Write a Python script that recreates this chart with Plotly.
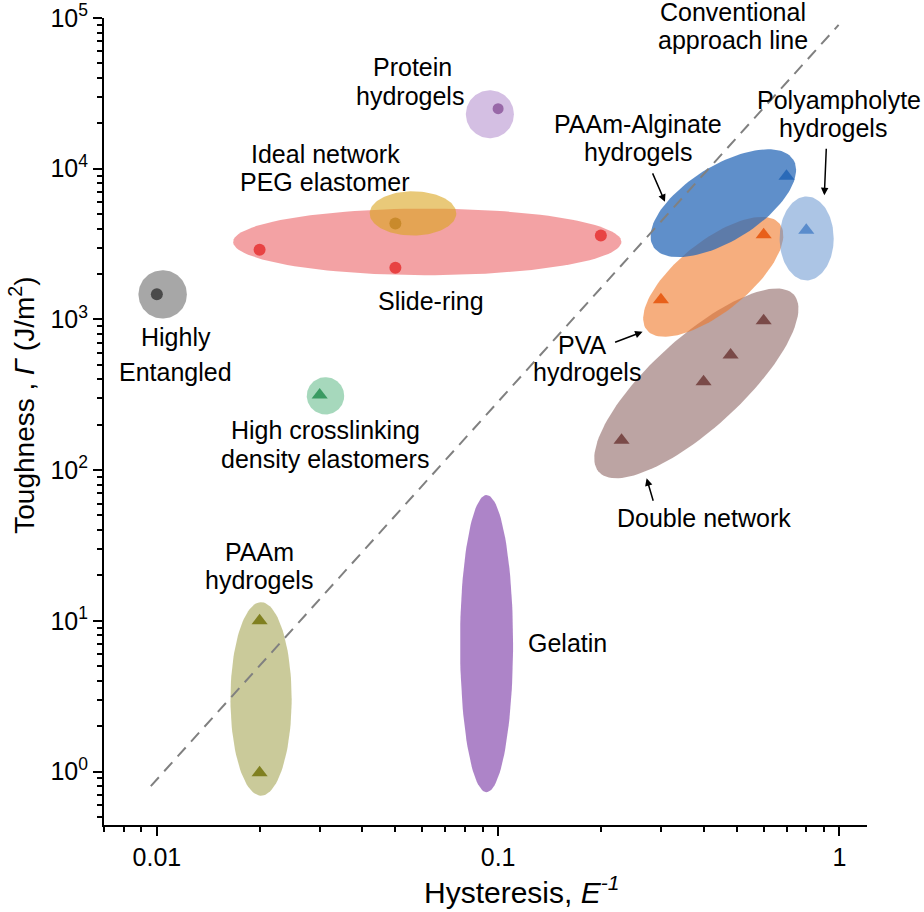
#%%
import numpy as np
import plotly.graph_objects as go

# %% DATA
# shaded regions: centre (hysteresis, toughness) + two half axes in decades (dlog10 x, dlog10 y)
region_names = ['Highly entangled', 'Slide-ring', 'Ideal network PEG', 'High crosslinking',
                'Protein hydrogels', 'Double network', 'PVA hydrogels', 'PAAm-Alginate hydrogels',
                'Polyampholyte hydrogels', 'PAAm hydrogels', 'Gelatin']
region_x = [0.0104, 0.062, 0.0563, 0.0312, 0.0946, 0.381, 0.427, 0.457, 0.802, 0.0202, 0.0925]
region_y = [1465, 3270, 5050, 311, 22980, 376, 1916, 5904, 3444, 3.03, 7.06]
region_half1 = [(0.071, 0), (0.569, 0), (0.127, 0), (0.0548, 0), (0.0704, 0),
                (0.2854, 0.5893), (0.1948, 0.3528), (0.2052, 0.2885), (0.0792, 0), (0.0897, 0), (0.0777, 0)]
region_half2 = [(0, 0.1605), (0, 0.221), (0, 0.147), (0, 0.124), (0, 0.159),
                (-0.0898, 0.2223), (-0.0651, 0.1837), (-0.0582, 0.2117), (0, 0.2785), (0, 0.642), (0, 0.986)]

# measured points
entangled_x, entangled_y = [0.01], [1470]
slide_x, slide_y = [0.02, 0.05, 0.2], [2900, 2200, 3600]
peg_x, peg_y = [0.05], [4330]
crosslink_x, crosslink_y = [0.03], [315]
protein_x, protein_y = [0.1], [25000]
dn_x, dn_y = [0.6, 0.48, 0.4, 0.23], [980, 580, 385, 158]
pva_x, pva_y = [0.6, 0.3], [3650, 1350]
alginate_x, alginate_y = [0.7], [8900]
polyamph_x, polyamph_y = [0.8], [3900]
paam_x, paam_y = [0.02, 0.02], [10.0, 0.98]

# conventional approach line (end points)
line_x = [0.0096, 0.995]
line_y = [0.8, 9.0e4]

x_ticks = [0.01, 0.1, 1]
x_ticktext = ['0.01', '0.1', '1']
y_ticks = [1, 10, 100, 1e3, 1e4, 1e5]
y_ticktext = ['10<sup>0</sup>', '10<sup>1</sup>', '10<sup>2</sup>', '10<sup>3</sup>', '10<sup>4</sup>', '10<sup>5</sup>']

# %% STYLE
region_fill = {
    'Highly entangled': 'rgba(80,80,80,0.5)',
    'Slide-ring': 'rgba(232,69,74,0.5)',
    'Ideal network PEG': 'rgba(218,165,32,0.6)',
    'High crosslinking': 'rgba(58,168,106,0.45)',
    'Protein hydrogels': 'rgba(160,112,192,0.45)',
    'Double network': 'rgba(122,74,72,0.5)',
    'PVA hydrogels': 'rgba(240,120,40,0.6)',
    'PAAm-Alginate hydrogels': 'rgba(42,106,184,0.75)',
    'Polyampholyte hydrogels': 'rgba(90,140,204,0.5)',
    'PAAm hydrogels': 'rgba(138,138,32,0.45)',
    'Gelatin': 'rgba(138,80,176,0.7)',
}

FONT = 'Liberation Sans, Arial, sans-serif'

fig = go.Figure()

t = np.linspace(0, 2 * np.pi, 120)
for name, cx, cy, h1, h2 in zip(region_names, region_x, region_y, region_half1, region_half2):
    lx = np.log10(cx) + h1[0] * np.cos(t) + h2[0] * np.sin(t)
    ly = np.log10(cy) + h1[1] * np.cos(t) + h2[1] * np.sin(t)
    fig.add_trace(go.Scatter(
        x=10 ** lx, y=10 ** ly, mode='lines', fill='toself',
        fillcolor=region_fill[name], line=dict(width=0), name=name, hoverinfo='skip'
    ))

fig.add_trace(go.Scatter(
    x=line_x, y=line_y, mode='lines',
    line=dict(color='#808080', width=2, dash='12px,8px'), hoverinfo='skip'
))

points = [
    (entangled_x, entangled_y, 'circle', '#4a4a4a', 12),
    (slide_x, slide_y, 'circle', '#e84343', 12),
    (peg_x, peg_y, 'circle', '#c98a2c', 12),
    (crosslink_x, crosslink_y, 'triangle-up', '#3a9a62', 14),
    (protein_x, protein_y, 'circle', '#9868a8', 11),
    (dn_x, dn_y, 'triangle-up', '#7a4a48', 14),
    (pva_x, pva_y, 'triangle-up', '#e8601a', 14),
    (alginate_x, alginate_y, 'triangle-up', '#2a6ab8', 14),
    (polyamph_x, polyamph_y, 'triangle-up', '#5a8ccc', 14),
    (paam_x, paam_y, 'triangle-up', '#808020', 14),
]
for px_, py_, sym, col, size in points:
    fig.add_trace(go.Scatter(
        x=px_, y=py_, mode='markers',
        marker=dict(symbol=sym, color=col, size=size, line=dict(width=0))
    ))


# %% LABELS
def label(text, x, y, yref='y'):
    fig.add_annotation(
        text=text, x=np.log10(x), y=np.log10(y) if yref == 'y' else y, yref=yref,
        showarrow=False, xanchor='center', yanchor='middle',
        font=dict(family=FONT, size=25, color='black')
    )


def arrow(x, y, ax, ay):
    fig.add_annotation(
        x=np.log10(x), y=np.log10(y), ax=ax, ay=ay, text='',
        showarrow=True, arrowhead=2, arrowsize=1, arrowwidth=1.5, arrowcolor='black'
    )


label('Conventional', 0.489, 1.007, yref='paper')
label('approach line', 0.489, 71900)
label('Protein', 0.056, 47300)
label('hydrogels', 0.0551, 30400)
label('Ideal network', 0.0312, 12480)
label('PEG elastomer', 0.0312, 8175)
label('Slide-ring', 0.0635, 1322)
label('Highly', 0.01134, 760)
label('Entangled', 0.01134, 445)
label('High crosslinking', 0.0312, 184.5)
label('density elastomers', 0.031, 118.5)
label('PAAm-Alginate', 0.2563, 19730)
label('hydrogels', 0.2563, 12925)
label('Polyampholyte', 1.0, 28460)
label('hydrogels', 0.96, 18640)
label('PVA', 0.1756, 675)
label('hydrogels', 0.1817, 447)
label('Double network', 0.401, 48.4)
label('PAAm', 0.01995, 28.6)
label('hydrogels', 0.01995, 18.7)
label('Gelatin', 0.1594, 7.1)

arrow(0.3083, 6026, -13, -30)
arrow(0.9036, 6668, 2, -48)
arrow(0.2651, 828, -29, 11)
arrow(0.2724, 88.2, 7, 24)

# axis titles
fig.add_annotation(
    text='Toughness , <i>Γ</i> (J/m<sup>2</sup>)', textangle=-90,
    xref='paper', yref='paper', x=-0.107, y=0.52, showarrow=False,
    xanchor='center', yanchor='middle',
    font=dict(family=FONT, size=28, color='black')
)
fig.add_annotation(
    text='Hysteresis, <i>E</i><sup><i>-1</i></sup>',
    xref='paper', yref='paper', x=0.5466, y=-0.106, showarrow=False,
    xanchor='center', yanchor='bottom',
    font=dict(family=FONT, size=30, color='black')
)

# %% AXES
axis_style = dict(
    type='log', showline=True, linecolor='black', linewidth=2, mirror=False,
    ticks='outside', ticklen=9, tickwidth=2, tickcolor='black',
    showgrid=False, zeroline=False, automargin=False,
    tickfont=dict(family=FONT, size=25, color='black'),
)
x_minor = [m * 10 ** e for e in range(-3, 1) for m in range(2, 10)]
y_minor = [m * 10 ** e for e in range(-1, 5) for m in range(2, 10)]

fig.update_xaxes(
    **axis_style, range=[np.log10(0.0070), np.log10(1.205)],
    tickvals=x_ticks, ticktext=x_ticktext,
    minor=dict(tickvals=x_minor, ticks='outside', ticklen=5, tickwidth=1.5, tickcolor='black', showgrid=False)
)
fig.update_yaxes(
    **axis_style, range=[-0.355, 5.0],
    tickvals=y_ticks, ticktext=y_ticktext,
    minor=dict(tickvals=y_minor, ticks='outside', ticklen=5, tickwidth=1.5, tickcolor='black', showgrid=False)
)

fig.update_layout(
    width=924, height=912,
    margin=dict(l=104, r=57, t=18, b=87),
    plot_bgcolor='white', paper_bgcolor='white',
    showlegend=False,
    font=dict(family=FONT, size=25, color='black'),
)

# drop the default 8px body margin so the figure starts at the page corner
fig.write_html(
    'out.html',
    config={'displayModeBar': False},
    post_script="document.body.style.margin='0';"
)
